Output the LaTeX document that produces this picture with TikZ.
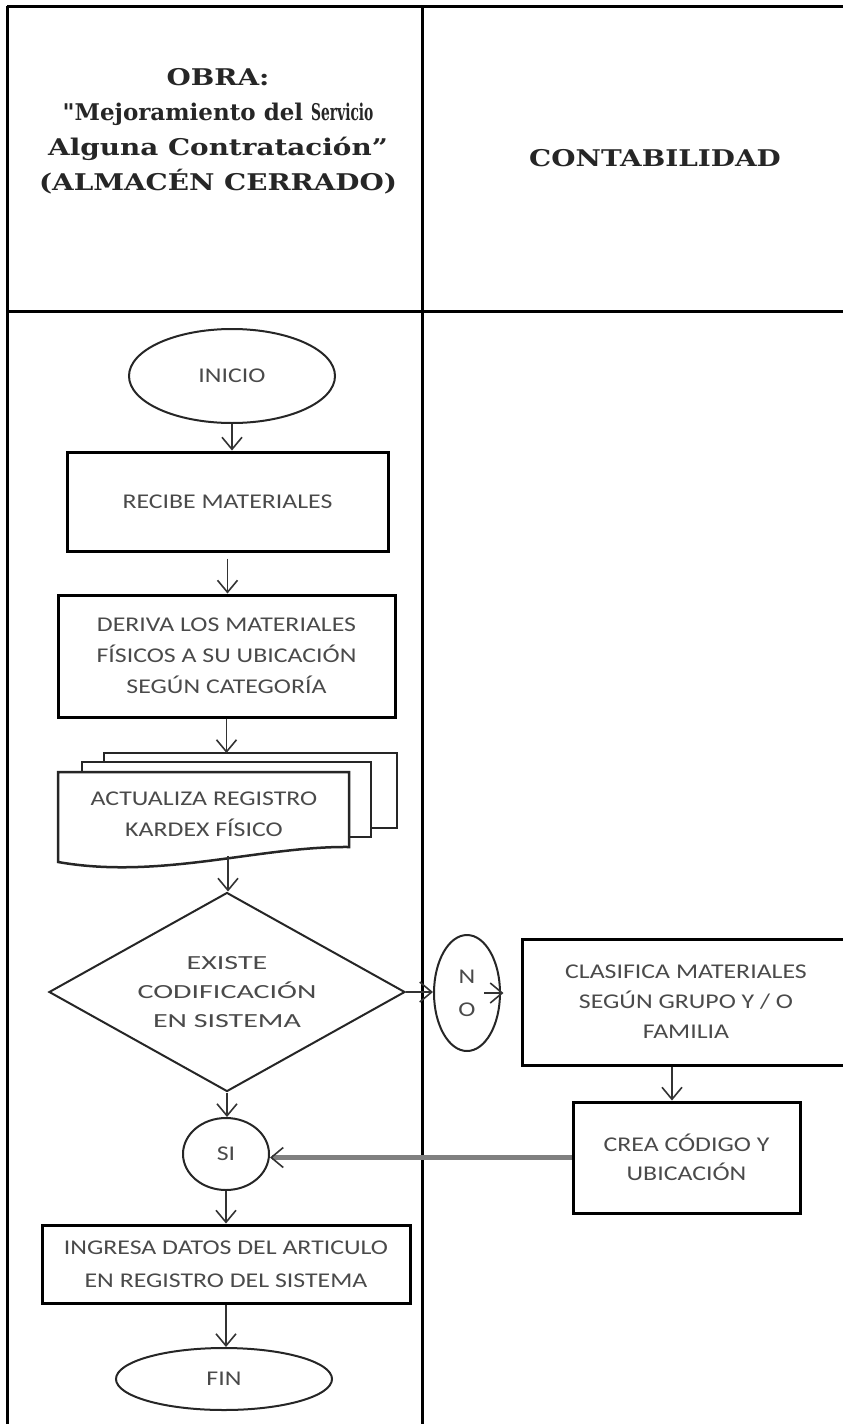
\documentclass[tikz,border=0pt]{standalone}
\usepackage{fontspec}
\usepackage{graphicx}
\setmainfont{Carlito}
\newfontfamily\flowfam{Carlito}[FakeStretch=1.23]
\newfontfamily\widefam{Carlito}[FakeStretch=1.5]
\newfontfamily\headfont{DejaVu Serif}[FakeStretch=1.21]
\newfontfamily\headplain{DejaVu Serif}
\usetikzlibrary{shapes.geometric,arrows.meta}
\definecolor{txt}{HTML}{4A4A4A}
\definecolor{conn}{HTML}{333333}
\definecolor{backline}{HTML}{808080}
\newcommand\flowfont{\flowfam\fontsize{21pt}{31pt}\selectfont}
\newcommand\lanefont{\headfont\bfseries\fontsize{23pt}{35pt}\selectfont}

\begin{document}
\begin{tikzpicture}[x=1pt,y=-1pt,
  lane/.style={line width=3pt,draw=black},
  headtext/.style={align=center,font=\lanefont,text=black!85,inner sep=0},
  box/.style={draw=black,line width=3pt,rectangle,align=center,font=\flowfont,text=txt,inner sep=0},
  term/.style={draw=black!85,line width=2pt,ellipse,align=center,font=\flowfont,text=txt,inner sep=0},
  decision/.style={draw=black!85,line width=2pt,diamond,aspect=1.79,align=center,text=txt,inner sep=0},
  docline/.style={draw=black!85,line width=2.5pt,fill=white},
  flow/.style={line width=1.8pt,draw=conn,-{Straight Barb[length=12pt,width=20pt,line width=1.6pt]}},
  back/.style={line width=4.5pt,draw=backline,-{Straight Barb[length=12pt,width=20pt,line width=1.6pt,color=conn]}}
]
\useasboundingbox (0,0) rectangle (843,1424);

% swimlane frame
\draw[lane] (7,6) -- (845,6);
\draw[lane] (7,6) -- (7,1426);
\draw[lane] (422,6) -- (422,1426);
\draw[lane] (7,311) -- (845,311);

% lane headers
\node[headtext] (obra) at (218,131) {OBRA:\\{\headplain\bfseries"Mejoramiento del \scalebox{0.6}[1]{Servicio}}\\Alguna Contratación”\\(ALMACÉN CERRADO)};
\node[headtext] (conta) at (655,158) {CONTABILIDAD};

% main column
\node[term, minimum width=206pt, minimum height=94pt] (inicio) at (232,376) {INICIO};
\node[box, minimum width=321pt, minimum height=99pt] (recibe) at (227.5,501.5) {RECIBE MATERIALES};
\node[box, minimum width=337pt, minimum height=122pt] (deriva) at (226.5,656) {DERIVA LOS MATERIALES\\FÍSICOS A SU UBICACIÓN\\SEGÚN CATEGORÍA};

% stacked document
\draw[docline] (104,753) rectangle (397,828);
\draw[docline] (82,762) rectangle (371,837);
\draw[docline] (58,772) -- (349,772) -- (349,847)
  .. controls (260,846) and (160,880) .. (58,862) -- cycle;
\node[font=\flowfont,text=txt,align=center,inner sep=0] (doc) at (204,814) {ACTUALIZA REGISTRO\\KARDEX FÍSICO};
\coordinate (doctop) at (228,753);
\coordinate (docbot) at (228,856);

\node[decision, minimum width=356pt, minimum height=199pt,
      font=\widefam\fontsize{20pt}{29pt}\selectfont] (dec) at (227,992) {EXISTE\\CODIFICACIÓN\\EN SISTEMA};
\node[term, minimum width=86pt, minimum height=72pt] (si) at (226,1154) {SI};
\node[box, minimum width=368pt, minimum height=78pt,
      font=\flowfam\fontsize{21pt}{33pt}\selectfont] (ingresa) at (226,1264) {INGRESA DATOS DEL ARTICULO\\EN REGISTRO DEL SISTEMA};
\node[term, minimum width=216pt, minimum height=62pt] (fin) at (224,1379) {FIN};

% accounting column
\node[term, minimum width=66pt, minimum height=116pt,
      font=\flowfam\fontsize{21pt}{33pt}\selectfont] (no) at (467,993) {N\\O};
\node[box, minimum width=328pt, minimum height=126pt,
      font=\flowfam\fontsize{21pt}{30pt}\selectfont] (clas) at (686,1002) {CLASIFICA MATERIALES\\SEGÚN GRUPO Y / O\\FAMILIA};
\node[box, minimum width=227pt, minimum height=111pt,
      font=\flowfam\fontsize{21pt}{29pt}\selectfont] (crea) at (686.5,1157.5) {CREA CÓDIGO Y\\UBICACIÓN};

% connectors
\draw[flow] (inicio.south) -- (inicio.south |- recibe.north);
\draw[flow, shorten <=6pt] (recibe.south) -- (recibe.south |- deriva.north);
\draw[flow] (deriva.south) -- (deriva.south |- doctop);
\draw[flow] (docbot) -- (docbot |- dec.north);
\draw[flow] (dec.south) -- (dec.south |- si.north);
\draw[flow] (si.south) -- (si.south |- ingresa.north);
\draw[flow] (ingresa.south) -- (ingresa.south |- fin.north);
\draw[flow] (dec.east) -- (dec.east -| no.west);
\draw[flow] ([xshift=-17pt]no.east) -- ([xshift=-17pt]no.east -| clas.west);
\draw[flow] ([xshift=-14pt]clas.south) -- ([xshift=-14pt]clas.south |- crea.north);
\draw[back] (crea.west) -- (crea.west -| si.east);
\end{tikzpicture}
\end{document}
